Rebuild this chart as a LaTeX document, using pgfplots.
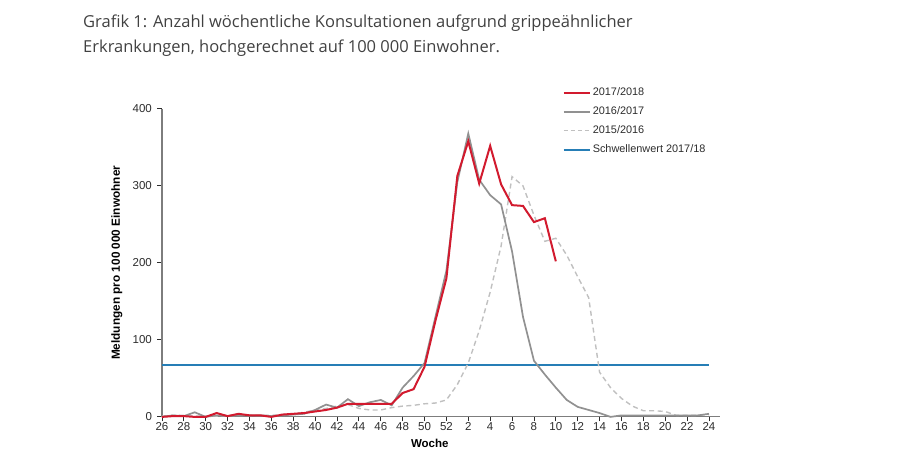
\documentclass[border=0pt]{standalone}
\usepackage{pgfplots}
\pgfplotsset{compat=1.18}
\usepackage{pgfplotstable}
\usepackage{fontspec}
\setmainfont{Liberation Sans}
\newfontfamily\titlefont{Open Sans}
\definecolor{cred}{RGB}{210,26,46}
\definecolor{cgray}{RGB}{145,145,145}
\definecolor{cdash}{RGB}{192,192,192}
\definecolor{cblue}{RGB}{38,126,182}
\definecolor{titlegray}{RGB}{65,65,65}
\definecolor{axgray}{RGB}{125,125,125}
\definecolor{labgray}{RGB}{45,45,45}

\pgfplotstableread{
idx val
0 0
1 1
2 1
3 0
4 0
5 5
6 1
7 4
8 2
9 2
10 0
11 3
12 4
13 5
14 7
15 9
16 12
17 17
18 17
19 17
20 17
21 17
22 31
23 36
24 65
25 125
26 180
27 313
28 358
29 303
30 352
31 302
32 275
33 274
34 253
35 258
36 202
}\red

\pgfplotstableread{
idx val
0 0
1 2
2 1
3 6
4 0
5 2
6 1
7 2
8 2
9 2
10 1
11 2
12 3
13 4
14 9
15 16
16 12
17 23
18 14
19 19
20 22
21 15
22 38
23 53
24 70
25 130
26 190
27 305
28 368
29 308
30 288
31 276
32 215
33 130
34 73
35 55
36 38
37 22
38 13
39 9
40 5
41 0
42 2
43 2
44 2
45 2
46 2
47 2
48 2
49 2
50 4
}\grayser

\pgfplotstableread{
idx val
0 1
1 2
2 2
3 1
4 1
5 1
6 2
7 2
8 2
9 2
10 2
11 3
12 4
13 6
14 9
15 11
16 14
17 16
18 11
19 9
20 9
21 12
22 14
23 15
24 17
25 18
26 22
27 42
28 70
29 112
30 162
31 222
32 312
33 300
34 262
35 228
36 232
37 210
38 182
39 155
40 58
41 38
42 24
43 14
44 8
45 8
46 7
47 2
48 2
49 2
50 3
}\dashser

\begin{document}
\begin{tikzpicture}[x=1pt,y=1pt]
\useasboundingbox (0,0) rectangle (900,450);
\node[anchor=base west, inner sep=0pt, font=\titlefont\fontsize{16.5}{19}\selectfont, text=titlegray] at (83,422) {Grafik 1: Anzahl wöchentliche Konsultationen aufgrund grippeähnlicher};
\node[anchor=base west, inner sep=0pt, font=\titlefont\fontsize{16.5}{19}\selectfont, text=titlegray] at (83,397) {Erkrankungen, hochgerechnet auf 100 000 Einwohner.};
\begin{axis}[
  at={(148,43)}, anchor=origin,
  scale only axis, width=558pt, height=308pt,
  xmin=0, xmax=51, ymin=0, ymax=400,
  axis lines=left,
  axis line style={draw=axgray, line width=1.2pt, -},
  xtick={0,2,...,50},
  xticklabels={26,28,30,32,34,36,38,40,42,44,46,48,50,52,2,4,6,8,10,12,14,16,18,20,22,24},
  ytick={0,100,200,300,400},
  tick align=outside,
  major tick length=4.5pt,
  tick style={draw=labgray, line width=0.8pt},
  /pgf/number format/assume math mode=true,
  tick label style={font=\fontsize{11.5}{13}\selectfont, text=labgray},
  xticklabel style={yshift=2pt},
  yticklabel style={xshift=-2pt},
  xlabel={Woche},
  ylabel={Meldungen pro 100 000 Einwohner},
  xlabel style={font=\bfseries\fontsize{11.5}{13}\selectfont, at={(axis description cs:0.48,-0.086)}, anchor=center},
  ylabel style={font=\bfseries\fontsize{11.8}{13}\selectfont, at={(axis description cs:-0.081,0.5)}, anchor=center},
  legend style={at={(0.718,1.075)}, anchor=north west, draw=none, fill=none,
    font=\fontsize{10.9}{12}\selectfont, text=labgray, row sep=5.6pt, inner sep=0pt},
  legend cell align=left,
  legend image code/.code={\draw[#1] (0pt,0pt) -- (23pt,0pt); \path (0pt,0pt) -- (26pt,0pt);},
  clip=false,
]
\addlegendimage{cred, line width=2pt}
\addlegendentry{2017/2018}
\addlegendimage{cgray, line width=1.7pt}
\addlegendentry{2016/2017}
\addlegendimage{cdash, line width=1.4pt, dash pattern=on 4pt off 3pt}
\addlegendentry{2015/2016}
\addlegendimage{cblue, line width=1.8pt}
\addlegendentry{Schwellenwert 2017/18}
\addplot[cblue, line width=1.8pt, forget plot] coordinates {(0,67) (50,67)};
\addplot[cdash, line width=1.4pt, dash pattern=on 5pt off 3.5pt, forget plot] table[x=idx,y=val] {\dashser};
\addplot[cgray, line width=1.7pt, forget plot] table[x=idx,y=val] {\grayser};
\addplot[cred, line width=2pt, forget plot] table[x=idx,y=val] {\red};
\end{axis}
\end{tikzpicture}
\end{document}
